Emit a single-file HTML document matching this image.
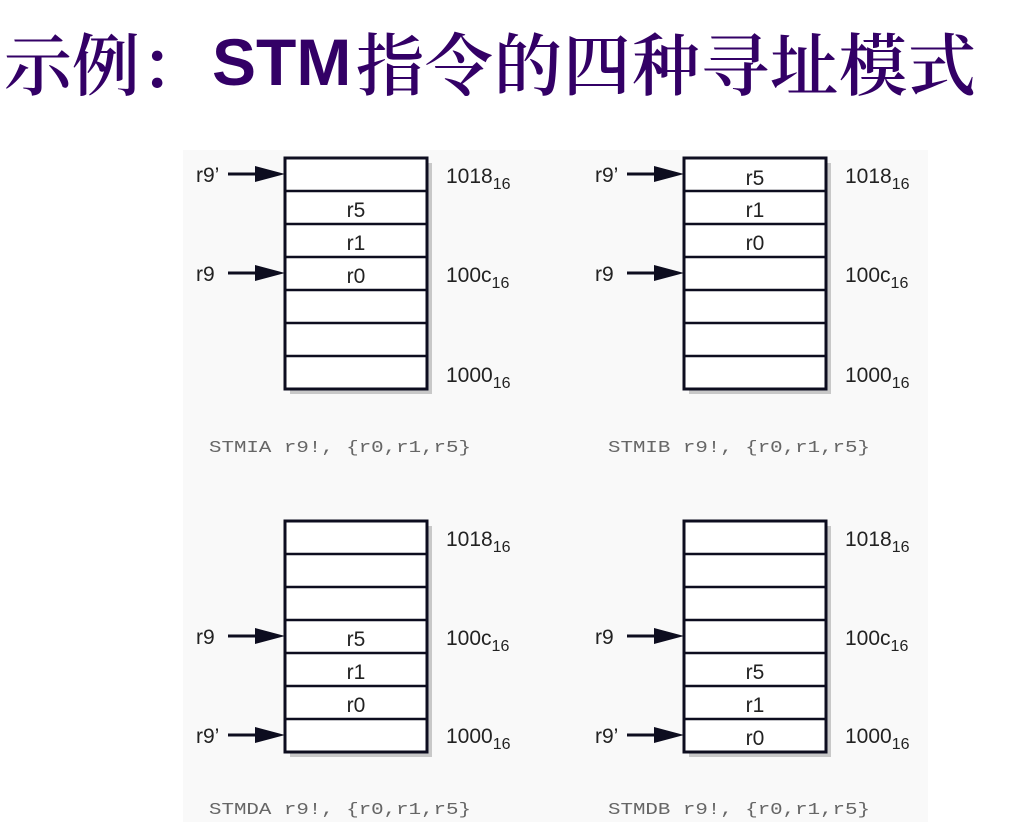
<!DOCTYPE html>
<html><head><meta charset="utf-8">
<style>
html,body{margin:0;padding:0;background:#fff;width:1030px;height:840px;overflow:hidden;position:relative}
.t{position:absolute;top:22px;color:#330066;font-family:"Liberation Sans","Noto Sans CJK SC",sans-serif;font-size:68px;line-height:80px;white-space:nowrap}
</style></head><body>
<div class="t" style="left:4px;font-family:'Noto Serif CJK SC','Noto Sans CJK SC',serif;font-weight:600">示例：</div>
<div class="t" style="left:212px;font-weight:bold;font-size:66px">STM</div>
<div class="t" style="left:356px;letter-spacing:1px;font-family:'Noto Serif CJK SC','Noto Sans CJK SC',serif;font-weight:600">指令的四种寻址模式</div>
<svg width="1030" height="840" style="position:absolute;left:0;top:0" xmlns="http://www.w3.org/2000/svg" font-family="Liberation Sans, sans-serif">
<rect x="183" y="150" width="745" height="672" fill="#f9f9f9"/>
<defs>
<g id="box">
<rect x="5" y="5" width="142" height="231" fill="#c8c8c8"/>
<rect x="0" y="0" width="142" height="231" fill="#fff" stroke="#0d0d1f" stroke-width="3"/>
<g stroke="#0d0d1f" stroke-width="2.5">
<line x1="0" y1="33" x2="142" y2="33"/><line x1="0" y1="66" x2="142" y2="66"/>
<line x1="0" y1="99" x2="142" y2="99"/><line x1="0" y1="132" x2="142" y2="132"/>
<line x1="0" y1="165" x2="142" y2="165"/><line x1="0" y1="198" x2="142" y2="198"/>
</g>
</g>
<g id="arr"><line x1="-57" y1="0" x2="-24" y2="0" stroke="#0d0d1f" stroke-width="3"/><polygon points="-30,-8 0,0 -30,8" fill="#0d0d1f"/></g>
</defs>
<g font-size="21" fill="#222">
<g transform="translate(285,158)">
<use href="#box"/>
<use href="#arr" y="16"/><use href="#arr" y="115"/>
<text x="-89" y="24">r9’</text><text x="-89" y="123">r9</text>
<g text-anchor="middle"><text x="71" y="59">r5</text><text x="71" y="92">r1</text><text x="71" y="125">r0</text></g>
<text x="161" y="25">1018<tspan font-size="16" dy="6">16</tspan></text>
<text x="161" y="124">100c<tspan font-size="16" dy="6">16</tspan></text>
<text x="161" y="224">1000<tspan font-size="16" dy="6">16</tspan></text>
</g>
<g transform="translate(684,158)">
<use href="#box"/>
<use href="#arr" y="16"/><use href="#arr" y="115"/>
<text x="-89" y="24">r9’</text><text x="-89" y="123">r9</text>
<g text-anchor="middle"><text x="71" y="27">r5</text><text x="71" y="59">r1</text><text x="71" y="92">r0</text></g>
<text x="161" y="25">1018<tspan font-size="16" dy="6">16</tspan></text>
<text x="161" y="124">100c<tspan font-size="16" dy="6">16</tspan></text>
<text x="161" y="224">1000<tspan font-size="16" dy="6">16</tspan></text>
</g>
<g transform="translate(285,521)">
<use href="#box"/>
<use href="#arr" y="115"/><use href="#arr" y="214"/>
<text x="-89" y="123">r9</text><text x="-89" y="222">r9’</text>
<g text-anchor="middle"><text x="71" y="125">r5</text><text x="71" y="158">r1</text><text x="71" y="191">r0</text></g>
<text x="161" y="25">1018<tspan font-size="16" dy="6">16</tspan></text>
<text x="161" y="124">100c<tspan font-size="16" dy="6">16</tspan></text>
<text x="161" y="222">1000<tspan font-size="16" dy="6">16</tspan></text>
</g>
<g transform="translate(684,521)">
<use href="#box"/>
<use href="#arr" y="115"/><use href="#arr" y="214"/>
<text x="-89" y="123">r9</text><text x="-89" y="222">r9’</text>
<g text-anchor="middle"><text x="71" y="158">r5</text><text x="71" y="191">r1</text><text x="71" y="224">r0</text></g>
<text x="161" y="25">1018<tspan font-size="16" dy="6">16</tspan></text>
<text x="161" y="124">100c<tspan font-size="16" dy="6">16</tspan></text>
<text x="161" y="222">1000<tspan font-size="16" dy="6">16</tspan></text>
</g>
</g>
<g font-family="Liberation Mono, monospace" font-size="17" fill="#666">
<text x="209" y="452" textLength="262" lengthAdjust="spacingAndGlyphs">STMIA r9!, {r0,r1,r5}</text>
<text x="608" y="452" textLength="262" lengthAdjust="spacingAndGlyphs">STMIB r9!, {r0,r1,r5}</text>
<text x="209" y="814" textLength="262" lengthAdjust="spacingAndGlyphs">STMDA r9!, {r0,r1,r5}</text>
<text x="608" y="814" textLength="262" lengthAdjust="spacingAndGlyphs">STMDB r9!, {r0,r1,r5}</text>
</g>
</svg>
</body></html>
